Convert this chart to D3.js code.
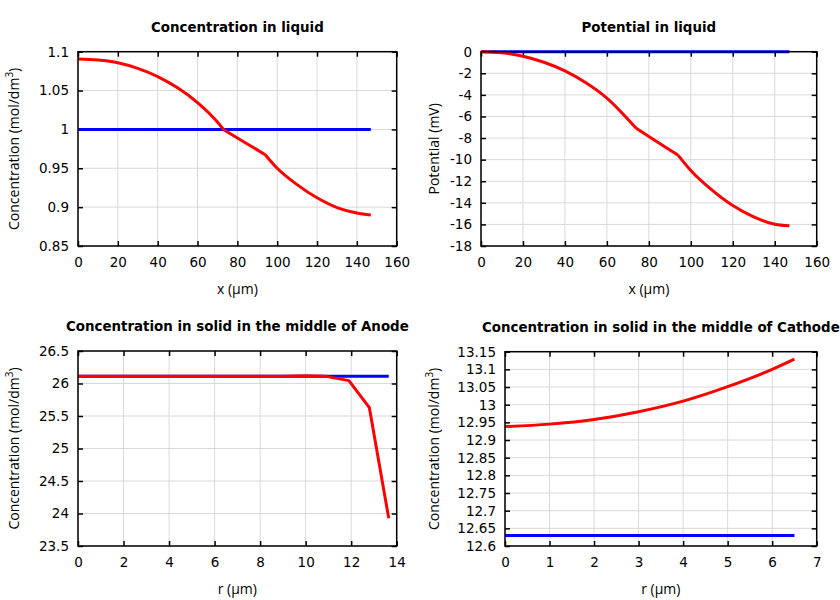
<!DOCTYPE html>
<html><head><meta charset="utf-8">
<script src="https://cdn.jsdelivr.net/npm/d3@7"></script>
<style>body{margin:0;background:#fff}svg{display:block}</style>
</head><body>
<svg id="c" width="840" height="600"></svg>
<script>
// Panel 1: Concentration in liquid (kinks at separator/electrode boundaries)
const liqX = [0,10,20,30,40,50,60,70,73,80,90,94,100,110,120,130,140,147];
const liqConc = [1.0905,1.0892,1.0858,1.0785,1.068,1.0535,1.0345,1.0095,1.0,0.989,0.9737,0.9675,0.950,0.929,0.912,0.8995,0.8925,0.890];
const liqKinks = [73,94];
const liqXInit = [0,147];
const liqConcInit = [1.0,1.0];
// Panel 2: Potential in liquid
const potX = [0,10,20,30,40,50,60,70,74,80,90,94,100,110,120,130,140,147];
const potVal = [0,-0.1,-0.42,-0.98,-1.78,-2.88,-4.3,-6.25,-7.1,-7.85,-9.1,-9.6,-11.0,-12.8,-14.25,-15.3,-15.98,-16.12];
const potKinks = [74,94];
const potInit = [0,0];
// Panel 3: Anode solid
const anR = [0,9,10,10.9,11.9,12.8,13.65];
const anConc = [26.11,26.11,26.118,26.11,26.044,25.628,23.926];
const anRInit = [0,13.65];
const anInit = [26.11,26.11];
// Panel 4: Cathode solid
const caR = [0,1,2,3,4,5,6,6.5];
const caConc = [12.938,12.945,12.958,12.98,13.01,13.051,13.10,13.129];
const caRInit = [0,6.5];
const caInit = [12.63,12.63];

const titles = ["Concentration in liquid","Potential in liquid","Concentration in solid in the middle of Anode","Concentration in solid in the middle of Cathode"];
const xLabels = ["x (\u00b5m)","x (\u00b5m)","r (\u00b5m)","r (\u00b5m)"];
const yLabels = ["conc","Potential (mV)","conc","conc"];
const xTicks = [[0,20,40,60,80,100,120,140,160],[0,20,40,60,80,100,120,140,160],[0,2,4,6,8,10,12,14],[0,1,2,3,4,5,6,7]];
const yTicks = [[0.85,0.9,0.95,1,1.05,1.1],[-18,-16,-14,-12,-10,-8,-6,-4,-2,0],[23.5,24,24.5,25,25.5,26,26.5],[12.6,12.65,12.7,12.75,12.8,12.85,12.9,12.95,13,13.05,13.1,13.15]];

const panels = [
  {box:[78,51.7,396.7,246], xd:[0,160], yd:[0.85,1.1], ylx:14,
   series:[[liqXInit,liqConcInit,"blue",[]],[liqX,liqConc,"red",liqKinks]], curve:d3.curveMonotoneX},
  {box:[481,51.7,816.7,246], xd:[0,160], yd:[-18,0], ylx:434,
   series:[[liqXInit,potInit,"blue",[]],[potX,potVal,"red",potKinks]], curve:d3.curveMonotoneX},
  {box:[78,351,396.7,546], xd:[0,14], yd:[23.5,26.5], ylx:14,
   series:[[anRInit,anInit,"blue",[]],[anR,anConc,"red",[]]], curve:d3.curveLinear},
  {box:[505,351.7,816.7,546], xd:[0,7], yd:[12.6,13.15], ylx:434,
   series:[[caRInit,caInit,"blue",[]],[caR,caConc,"red",[]]], curve:d3.curveMonotoneX}
];

const svg = d3.select("#c");
panels.forEach((p,i)=>{
  const [x0,y0,x1,y1] = p.box;
  const x = d3.scaleLinear().domain(p.xd).range([x0,x1]);
  const y = d3.scaleLinear().domain(p.yd).range([y1,y0]);
  const g = svg.append("g");
  const id = "clip"+i;
  svg.append("clipPath").attr("id",id).append("rect").attr("x",x0-2).attr("y",y0-2).attr("width",x1-x0+4).attr("height",y1-y0+4);
  g.append("g").selectAll("line").data(xTicks[i]).join("line")
    .attr("x1",d=>x(d)).attr("x2",d=>x(d)).attr("y1",y0).attr("y2",y1)
    .attr("stroke","#d9d9d9").attr("stroke-width",1);
  g.append("g").selectAll("line").data(yTicks[i]).join("line")
    .attr("y1",d=>y(d)).attr("y2",d=>y(d)).attr("x1",x0).attr("x2",x1)
    .attr("stroke","#d9d9d9").attr("stroke-width",1);
  const fmt = d=>String(+d.toFixed(4));
  const ax = (gen, tr, vals)=>{
    const a = g.append("g").attr("transform",tr).call(gen.tickValues(vals).tickSize(-5).tickPadding(9).tickFormat(fmt));
    a.select(".domain").remove();
    a.selectAll(".tick line").attr("stroke","#000").attr("stroke-width",1.5);
    a.selectAll("text").attr("font-family","DejaVu Sans, sans-serif").attr("font-size",13.5).attr("fill","#000");
    return a;
  };
  ax(d3.axisBottom(x), `translate(0,${y1})`, xTicks[i]).selectAll("text").attr("dy","0.9em");
  ax(d3.axisLeft(y), `translate(${x0},0)`, yTicks[i]);
  ax(d3.axisTop(x), `translate(0,${y0})`, xTicks[i]).selectAll("text").remove();
  ax(d3.axisRight(y), `translate(${x1},0)`, yTicks[i]).selectAll("text").remove();
  const lg = g.append("g").attr("clip-path",`url(#${id})`);
  p.series.forEach(([xs,ys,col,kinks])=>{
    const pts = xs.map((v,k)=>[v,ys[k]]);
    const bounds = [xs[0], ...kinks, xs[xs.length-1]];
    const line = d3.line().x(d=>x(d[0])).y(d=>y(d[1])).curve(p.curve);
    let dstr = "";
    for(let b=0;b<bounds.length-1;b++){
      const seg = pts.filter(d=>d[0]>=bounds[b] && d[0]<=bounds[b+1]);
      dstr += line(seg);
    }
    lg.append("path").attr("d",dstr)
      .attr("fill","none").attr("stroke",col).attr("stroke-width",3).attr("stroke-linejoin","round");
  });
  g.append("rect").attr("x",x0).attr("y",y0).attr("width",x1-x0).attr("height",y1-y0)
    .attr("fill","none").attr("stroke","#000").attr("stroke-width",1.5);
  g.append("text").attr("x",(x0+x1)/2).attr("y",y0-20).attr("text-anchor","middle")
    .attr("font-family","DejaVu Sans, sans-serif").attr("font-weight","bold").attr("font-size",13.4)
    .text(titles[i]);
  g.append("text").attr("x",(x0+x1)/2).attr("y",y1+48).attr("text-anchor","middle")
    .attr("font-family","Open Sans, sans-serif").attr("font-size",14).text(xLabels[i]);
  const yl = g.append("text").attr("transform",`translate(${p.ylx+5},${(y0+y1)/2}) rotate(-90)`)
    .attr("text-anchor","middle").attr("font-family","Open Sans, sans-serif").attr("font-size",14);
  if(yLabels[i]==="conc"){
    yl.append("tspan").text("Concentration (mol/dm");
    yl.append("tspan").attr("font-size",10).attr("dy",-6).text("3");
    yl.append("tspan").attr("dy",6).text(")");
  } else yl.text(yLabels[i]);
});
</script>
</body></html>
